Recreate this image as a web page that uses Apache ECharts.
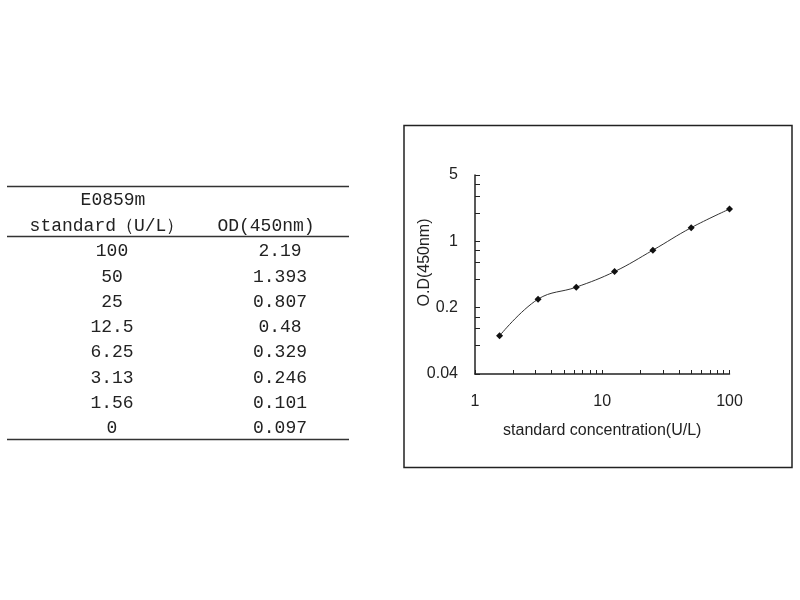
<!DOCTYPE html>
<html>
<head>
<meta charset="utf-8">
<title>E0859m standard curve</title>
<script src="https://cdn.jsdelivr.net/npm/echarts@6/dist/echarts.min.js"></script>
<style>
  html, body { margin: 0; padding: 0; background: #fff; }
  #main { width: 800px; height: 600px; }
</style>
</head>
<body>
<div id="main"></div>
<script>
// standard table (left) and curve (right)
var standards = ['100', '50', '25', '12.5', '6.25', '3.13', '1.56', '0'];
var odValues = ['2.19', '1.393', '0.807', '0.48', '0.329', '0.246', '0.101', '0.097'];
var headerTitle = 'E0859m';
var headerStd = 'standard（U/L）';
var headerOd = 'OD(450nm)';

var xTicks = [1, 2, 3, 4, 5, 6, 7, 8, 9, 10, 20, 30, 40, 50, 60, 70, 80, 90, 100];
var yTicks = [0.04, 0.08, 0.12, 0.16, 0.2, 0.4, 0.6, 0.8, 1, 2, 3, 4, 5];

var tableFont = '"Liberation Mono", "DejaVu Sans Mono", monospace';
var chartFont = '"Liberation Sans", Arial, sans-serif';

// points for the curve, blank (0) can't go on a log axis
var curve = [];
for (var i = 0; i < standards.length; i++) {
	var c = parseFloat(standards[i]);
	if (c > 0) {
		curve.push([c, parseFloat(odValues[i])]);
	}
}

//表格
var graphics = [];
var tLeft = 7, tRight = 349;
graphics.push({ type: 'line', shape: { x1: tLeft, y1: 186.5, x2: tRight, y2: 186.5 }, style: { stroke: '#333', lineWidth: 1.5 } });
graphics.push({ type: 'line', shape: { x1: tLeft, y1: 236.5, x2: tRight, y2: 236.5 }, style: { stroke: '#333', lineWidth: 1.5 } });
graphics.push({ type: 'line', shape: { x1: tLeft, y1: 439.5, x2: tRight, y2: 439.5 }, style: { stroke: '#333', lineWidth: 1.5 } });

function cell(txt, x, y) {
	return {
		type: 'text', x: x, y: y,
		style: { text: txt, font: '18px ' + tableFont, fill: '#222', align: 'center', verticalAlign: 'middle' }
	};
}
graphics.push(cell(headerTitle, 113, 200));
graphics.push(cell(headerStd, 107, 226));
graphics.push(cell(headerOd, 266, 226));
for (var r = 0; r < standards.length; r++) {
	graphics.push(cell(standards[r], 112, 251.5 + r * 25.3));
	graphics.push(cell(odValues[r], 280, 251.5 + r * 25.3));
}

// chart frame
graphics.push({
	type: 'rect',
	shape: { x: 404, y: 125.5, width: 388, height: 342 },
	style: { fill: 'none', stroke: '#222', lineWidth: 1.5 }
});

var myChart = echarts.init(document.getElementById('main'));

var option = {
	animation: false,
	backgroundColor: '#fff',
	grid: { left: 475, right: 70.5, top: 175, bottom: 226 },
	xAxis: {
		type: 'log',
		logBase: 10,
		min: 1,
		max: 100,
		name: 'standard concentration(U/L)',
		nameLocation: 'middle',
		nameGap: 49,
		nameMoveOverlap: false,
		nameTextStyle: { fontFamily: chartFont, fontSize: 16, color: '#222' },
		axisLine: { lineStyle: { color: '#222', width: 1.5 } },
		axisTick: { show: true, inside: true, length: 4, customValues: xTicks, lineStyle: { color: '#222' } },
		axisLabel: { fontFamily: chartFont, fontSize: 16, color: '#222', margin: 20 },
		splitLine: { show: false }
	},
	yAxis: {
		type: 'log',
		logBase: 5,
		min: 0.04,
		max: 5,
		name: 'O.D(450nm)',
		nameLocation: 'middle',
		nameGap: 42,
		nameMoveOverlap: false,
		nameTextStyle: { fontFamily: chartFont, fontSize: 16, color: '#222', padding: [0, 0, 0, 24] },
		axisLine: { show: true, lineStyle: { color: '#222', width: 1.5 } },
		axisTick: { show: true, inside: true, length: 5, customValues: yTicks, lineStyle: { color: '#222' } },
		axisLabel: {
			fontFamily: chartFont, fontSize: 16, color: '#222', margin: 17,
			formatter: function (v) { return String(+Number(v).toPrecision(3)); }
		},
		splitLine: { show: false }
	},
	series: [{
		type: 'line',
		data: curve,
		smooth: 0.4,
		symbol: 'diamond',
		symbolSize: 7,
		itemStyle: { color: '#111' },
		lineStyle: { color: '#333', width: 1 }
	}],
	graphic: graphics
};

myChart.setOption(option);
</script>
</body>
</html>
